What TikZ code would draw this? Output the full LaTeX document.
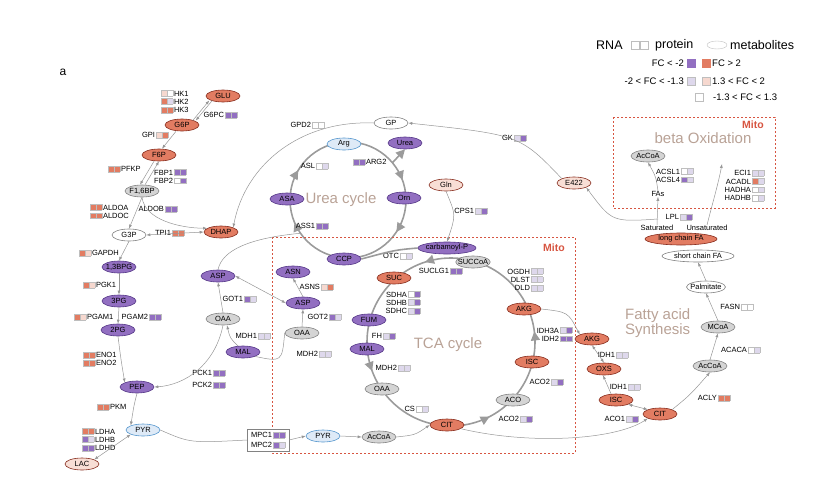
\documentclass[tikz,border=0pt]{standalone}
\usepackage{fontspec}
\setmainfont{Liberation Sans}
\usetikzlibrary{shapes.geometric, positioning, calc, arrows.meta, decorations.markings}

% fold change colours
\definecolor{fcup}{RGB}{226,124,98}
\definecolor{fclup}{RGB}{246,216,207}
\definecolor{fcdn}{RGB}{146,111,193}
\definecolor{fcldn}{RGB}{222,216,236}
\colorlet{fcno}{white}
\definecolor{boxline}{RGB}{190,190,190}
\definecolor{arrowgray}{RGB}{150,150,150}
\definecolor{cyclegray}{RGB}{155,155,155}
\definecolor{mitored}{RGB}{215,85,65}
\definecolor{titletan}{RGB}{185,162,150}
\definecolor{upline}{RGB}{135,45,30}
\definecolor{dnline}{RGB}{85,55,135}
\definecolor{blueline}{RGB}{85,150,205}
\definecolor{bluefill}{RGB}{222,234,247}
\definecolor{pinkfill}{RGB}{248,222,213}
\definecolor{grayfill}{RGB}{212,212,212}
\definecolor{grayline}{RGB}{130,130,130}

\newcommand{\genefont}{\fontsize{7.5}{8.3}\selectfont}
\newcommand{\fcbox}[1]{{\setlength{\fboxsep}{0pt}\setlength{\fboxrule}{0.3pt}%
  \fcolorbox{boxline}{#1}{\rule{0pt}{5.6pt}\rule{5.2pt}{0pt}}}}
\newcommand{\glab}[3]{#1\,\fcbox{#2}\fcbox{#3}}
\newcommand{\blab}[3]{\fcbox{#2}\fcbox{#3}\,#1}

\begin{document}
\begin{tikzpicture}[x=1pt, y=-1pt,
    met/.style={ellipse, draw, line width=0.6pt, minimum width=#1,
      minimum height=12, inner xsep=-3pt, inner ysep=0pt, font=\genefont},
    met/.default=34,
    metup/.style={met=#1, fill=fcup, draw=upline}, metup/.default=34,
    metdn/.style={met=#1, fill=fcdn, draw=dnline}, metdn/.default=34,
    metgy/.style={met=#1, fill=grayfill, draw=grayline}, metgy/.default=34,
    metwt/.style={met=#1, fill=white, draw=grayline}, metwt/.default=34,
    metbl/.style={met=#1, fill=bluefill, draw=blueline}, metbl/.default=34,
    metpk/.style={met=#1, fill=pinkfill, draw=upline}, metpk/.default=34,
    gene/.style={inner sep=0pt, font=\genefont},
    genel/.style={gene, anchor=east, align=right},
    gener/.style={gene, anchor=west, align=left},
    flow/.style={draw=arrowgray, line width=0.5pt, -{Latex[length=4pt, width=3pt]}},
    both/.style={flow, {Latex[length=4pt, width=3pt]}-{Latex[length=4pt, width=3pt]}},
    link/.style={draw=arrowgray, line width=0.5pt},
    cyc/.style={color=cyclegray, line width=1.6pt},
    bigtip/.style={-{Triangle[length=9pt, width=9pt]}},
    mitobox/.style={draw=mitored, line width=0.8pt, dash pattern=on 2pt off 2pt},
    cycletitle/.style={font=\fontsize{15}{12.5}\selectfont, text=titletan, inner sep=0pt},
    mitotitle/.style={font=\fontsize{10.5}{12}\selectfont\bfseries, text=mitored, inner sep=0pt},
    lgtext/.style={font=\fontsize{9.5}{11}\selectfont, inner sep=0pt},
    lgbig/.style={font=\fontsize{12.5}{14}\selectfont, inner sep=0pt},
    lgbox/.style={draw=boxline, line width=0.4pt, minimum width=8, minimum height=8, inner sep=0pt}
  ]
  \useasboundingbox (0,0) rectangle (825,493);

  % cycles
  \coordinate (ureac) at (348,200);
  \coordinate (tcac) at (451,342);
  \draw[cyc, postaction={decorate}, decoration={markings,
      mark=at position 0.093 with {\arrow{Triangle[length=9pt,width=9pt]}},
      mark=at position 0.437 with {\arrow{Triangle[length=9pt,width=9pt]}},
      mark=at position 0.586 with {\arrow{Triangle[length=9pt,width=9pt]}},
      mark=at position 0.944 with {\arrow{Triangle[length=9pt,width=9pt]}}}]
    (ureac) circle[radius=58];
  \draw[cyc, postaction={decorate}, decoration={markings,
      mark=at position 0.02 with {\arrow{Triangle[length=9pt,width=9pt]}},
      mark=at position 0.30 with {\arrow{Triangle[length=9pt,width=9pt]}},
      mark=at position 0.556 with {\arrow{Triangle[length=9pt,width=9pt]}},
      mark=at position 0.826 with {\arrow{Triangle[length=9pt,width=9pt]}}}]
    (tcac) ++(0:84) arc[start angle=0, end angle=-360, radius=84];

  % compartments
  \draw[mitobox] (272,237) rectangle (575,453);
  \draw[mitobox] (613,117) rectangle (775,208);

  \node[font=\fontsize{12}{14}\selectfont] (panel) at (63,72) {a};
  \node[cycletitle] (ureatitle) at (341,200) {Urea cycle};
  \node[cycletitle] (tcatitle) at (448,345) {TCA cycle};
  \node[cycletitle] (betatitle) at (703,138) {beta Oxidation};
  \node[cycletitle, anchor=west, align=left] (fatitle) at (625,323) {Fatty acid\\Synthesis};
  \node[mitotitle] (mitotca) at (554,248) {Mito};
  \node[mitotitle] (mitobeta) at (753,125) {Mito};

  % glycolysis
  \node[metup] (glu) at (223,96) {GLU};
  \node[metup] (gsixp) at (182,125) {G6P};
  \node[metup] (fsixp) at (159,155) {F6P};
  \node[metgy] (fbp) at (142,191) {F1,6BP};
  \node[metwt] (gthreep) at (129,235) {G3P};
  \node[metup] (dhap) at (221,232) {DHAP};
  \node[metdn] (bpg) at (119,267) {1,3BPG};
  \node[metdn] (pgthree) at (119,301) {3PG};
  \node[metdn] (pgtwo) at (118,330) {2PG};
  \node[metdn] (pep) at (137,387) {PEP};
  \node[metbl] (pyr) at (143,430) {PYR};
  \node[metpk] (lac) at (82,464) {LAC};

  % shuttles
  \node[metdn] (aspc) at (218,276) {ASP};
  \node[metgy] (oaac) at (223,319) {OAA};
  \node[metdn] (malc) at (243,352) {MAL};
  \node[metdn] (asn) at (293,272) {ASN};
  \node[metdn] (aspm) at (303,303) {ASP};
  \node[metgy] (oaam) at (302,333) {OAA};
  \node[metbl] (pyrm) at (323,436) {PYR};
  \node[metgy] (accoam) at (379,437) {AcCoA};

  % TCA cycle
  \node[metup] (cit) at (447,425) {CIT};
  \node[metgy] (aco) at (513,400) {ACO};
  \node[metup] (isc) at (532,362) {ISC};
  \node[metup] (akg) at (524,309) {AKG};
  \node[metgy] (succoa) at (473,262) {SUCCoA};
  \node[metup] (suc) at (394,278) {SUC};
  \node[metdn] (fum) at (369,320) {FUM};
  \node[metdn] (mal) at (367,349) {MAL};
  \node[metgy] (oaa) at (382,389) {OAA};

  % urea cycle
  \node[metbl] (arg) at (344,144) {Arg};
  \node[metdn] (urea) at (405,143) {Urea};
  \node[metdn] (orn) at (404,198) {Orn};
  \node[metdn] (asa) at (287,199) {ASA};
  \node[metdn] (ccp) at (344,259) {CCP};
  \node[metdn=58] (carbp) at (447,248) {carbamoyl-P};
  \node[metpk] (gln) at (446,185) {Gln};
  \node[metwt] (gp) at (391,123) {GP};
  \node[metpk] (efour) at (574,183) {E422};

  % fatty acids
  \node[metup] (akgf) at (592,339) {AKG};
  \node[metup] (oxs) at (604,369) {OXS};
  \node[metup] (iscf) at (616,400) {ISC};
  \node[metup] (citf) at (660,414) {CIT};
  \node[metgy] (accoaf) at (710,366) {AcCoA};
  \node[metgy] (mcoa) at (718,327) {MCoA};
  \node[metwt=39] (palm) at (706,287) {Palmitate};
  \node[metwt=72] (scfa) at (698,256) {short chain FA};
  \node[metup=72] (lcfa) at (681,239) {long chain FA};
  \node[metgy] (accoab) at (648,156) {AcCoA};
  \node[gene] (fas) at (658,194) {FAs};
  \node[gene] (sat) at (657,228) {Saturated};
  \node[gene] (unsat) at (707,228) {Unsaturated};

  % genes
  \node[gener] (hk) at (161,101.5) {\blab{HK1}{fclup}{fcno}\\\blab{HK2}{fcup}{fcldn}\\\blab{HK3}{fcup}{fcup}};
  \node[genel] (gsixpc) at (237,115) {\glab{G6PC}{fcdn}{fcdn}};
  \node[genel] (gpi) at (168,135) {\glab{GPI}{fclup}{fcup}};
  \node[gener] (pfkp) at (108,169) {\blab{PFKP}{fcup}{fcup}};
  \node[genel] (fbpase) at (186,176.5) {\glab{FBP1}{fcdn}{fcdn}\\\glab{FBP2}{fcno}{fcdn}};
  \node[gener] (aldo) at (90,211.5) {\blab{ALDOA}{fcup}{fcup}\\\blab{ALDOC}{fcup}{fcup}};
  \node[genel] (aldob) at (177,209) {\glab{ALDOB}{fcdn}{fcdn}};
  \node[genel] (tpi) at (184,233) {\glab{TPI1}{fcup}{fcup}};
  \node[gener] (gapdh) at (79,253) {\blab{GAPDH}{fcup}{fclup}};
  \node[gener] (pgk) at (83,285) {\blab{PGK1}{fcup}{fclup}};
  \node[gener] (pgamone) at (74,317) {\blab{PGAM1}{fcup}{fclup}};
  \node[genel] (pgamtwo) at (161,317) {\glab{PGAM2}{fcdn}{fcdn}};
  \node[gener] (eno) at (83,359) {\blab{ENO1}{fcup}{fcup}\\\blab{ENO2}{fcup}{fcup}};
  \node[gener] (pkm) at (97,407) {\blab{PKM}{fcup}{fcup}};
  \node[gener] (ldh) at (82,439.5) {\blab{LDHA}{fcup}{fcup}\\\blab{LDHB}{fcdn}{fcldn}\\\blab{LDHD}{fcdn}{fcdn}};

  \node[genel] (gotone) at (256,299) {\glab{GOT1}{fcdn}{fcldn}};
  \node[genel] (mdhone) at (270,336) {\glab{MDH1}{fcldn}{fcldn}};
  \node[genel] (pckone) at (225,373) {\glab{PCK1}{fcdn}{fcdn}};
  \node[genel] (pcktwo) at (225,385) {\glab{PCK2}{fcdn}{fcdn}};
  \node[genel] (asns) at (333,287) {\glab{ASNS}{fclup}{fcup}};
  \node[genel] (gottwo) at (341,317) {\glab{GOT2}{fcdn}{fcldn}};
  \node[genel] (mdhtwoc) at (331,354) {\glab{MDH2}{fcldn}{fcldn}};
  \node[gene, draw=grayline, fill=white, line width=0.5pt, inner xsep=4pt, inner ysep=2.5pt,
    align=right] (mpc) at (268,440) {\glab{MPC1}{fcdn}{fcdn}\\[2pt]\glab{MPC2}{fcdn}{fcldn}};

  \node[genel] (asl) at (328,166) {\glab{ASL}{fcno}{fcldn}};
  \node[gener] (argtwo) at (353,162) {\blab{ARG2}{fcdn}{fcdn}};
  \node[genel] (assone) at (328,226) {\glab{ASS1}{fcdn}{fcdn}};
  \node[genel] (gpdtwo) at (324,125) {\glab{GPD2}{fcno}{fcno}};
  \node[genel] (gk) at (526,138) {\glab{GK}{fcldn}{fcdn}};
  \node[genel] (cpsone) at (487,211) {\glab{CPS1}{fcldn}{fcdn}};
  \node[genel] (otc) at (412,256) {\glab{OTC}{fcno}{fcldn}};
  \node[genel] (suclg) at (462,271) {\glab{SUCLG1}{fcdn}{fcdn}};
  \node[genel] (sdh) at (420,302.5) {\glab{SDHA}{fcno}{fcdn}\\\glab{SDHB}{fcldn}{fcdn}\\\glab{SDHC}{fcldn}{fcdn}};
  \node[genel] (fh) at (395,336) {\glab{FH}{fcldn}{fcdn}};
  \node[genel] (mdhtwo) at (410,368) {\glab{MDH2}{fcldn}{fcldn}};
  \node[genel] (cs) at (428,409) {\glab{CS}{fcno}{fcldn}};
  \node[genel] (acotwob) at (532,419) {\glab{ACO2}{fcldn}{fcdn}};
  \node[genel] (acotwor) at (563,382) {\glab{ACO2}{fcldn}{fcdn}};
  \node[genel] (idhm) at (572,334.5) {\glab{IDH3A}{fcldn}{fcdn}\\\glab{IDH2}{fcdn}{fcdn}};
  \node[genel] (ogdh) at (543,279.5) {\glab{OGDH}{fcldn}{fcldn}\\\glab{DLST}{fcldn}{fcldn}\\\glab{DLD}{fcldn}{fcldn}};

  \node[genel] (idhonea) at (628,355) {\glab{IDH1}{fcldn}{fcldn}};
  \node[genel] (idhoneb) at (640,387) {\glab{IDH1}{fcldn}{fcldn}};
  \node[genel] (acoone) at (638,419) {\glab{ACO1}{fcldn}{fcdn}};
  \node[genel] (acly) at (730,398) {\glab{ACLY}{fcup}{fcup}};
  \node[genel] (acaca) at (760,350) {\glab{ACACA}{fcno}{fcldn}};
  \node[genel] (fasn) at (753,307) {\glab{FASN}{fcno}{fcno}};
  \node[genel] (lpl) at (692,217) {\glab{LPL}{fcldn}{fcdn}};
  \node[genel] (acsl) at (693,175.5) {\glab{ACSL1}{fcno}{fcldn}\\\glab{ACSL4}{fcdn}{fcldn}};
  \node[genel] (eci) at (764,185.5) {\glab{ECI1}{fcldn}{fcldn}\\\glab{ACADL}{fcup}{fcldn}\\\glab{HADHA}{fcno}{fcldn}\\\glab{HADHB}{fcno}{fcldn}};

  % legend
  \node[lgbig, anchor=west] (lgrna) at (596,45) {RNA};
  \node[lgbox] (lgrnabox) at (635.5,45) {};
  \node[lgbox] (lgprotbox) at (644.5,45) {};
  \node[lgbig, anchor=west] (lgprot) at (655,45) {protein};
  \node[ellipse, draw=boxline, line width=0.4pt, minimum width=20, minimum height=8, inner sep=0pt] (lgmet) at (717,45) {};
  \node[lgbig, anchor=west] (lgmettext) at (730,45) {metabolites};
  \node[lgtext, anchor=east] (lgdntext) at (684,63) {FC < -2};
  \node[lgbox, fill=fcdn, draw=fcdn] (lgdn) at (691,63) {};
  \node[lgbox, fill=fcup, draw=fcup] (lgup) at (706,63) {};
  \node[lgtext, anchor=west] (lguptext) at (712,63) {FC > 2};
  \node[lgtext, anchor=east] (lgldntext) at (684,81) {-2 < FC < -1.3};
  \node[lgbox, fill=fcldn] (lgldn) at (691,81) {};
  \node[lgbox, fill=fclup] (lglup) at (706,81) {};
  \node[lgtext, anchor=west] (lgluptext) at (712,81) {1.3 < FC < 2};
  \node[lgbox] (lgno) at (699,97) {};
  \node[lgtext, anchor=west] (lgnotext) at (713,97) {-1.3 < FC < 1.3};

  % glycolysis connectors
  \draw[flow] ([xshift=-1.5pt]gsixp.north east) -- ([xshift=-1.5pt]glu.south west);
  \draw[flow] ([xshift=1.5pt]glu.south west) -- ([xshift=1.5pt]gsixp.north east);
  \draw[flow] ($(gsixp.south)+(-6,0)$) -- ($(fsixp.north)+(3,0)$);
  \draw[flow] ($(fsixp.south)+(-5,0)$) -- ($(fbp.north)+(-2,0)$);
  \draw[flow] ($(fbp.north)+(3,0)$) -- (fsixp.south);
  \draw[flow] (fbp.south) -- (gthreep.north);
  \draw[flow] (fbp.south) .. controls (145,220) and (180,228) .. (dhap.165);
  \draw[both] (gthreep.east) -- (dhap.west);
  \draw[flow] (gthreep.south) -- (bpg.north);
  \draw[flow] (bpg.south) -- (pgthree.north);
  \draw[flow] (pgthree.south) -- (pgtwo.north);
  \draw[flow] (pgtwo.south) .. controls (121,360) .. (pep.north west);
  \draw[flow] (pep.south) .. controls (134,405) .. (pyr.north west);
  \draw[both] (pyr.south west) -- (lac.north east);
  \draw[link] (pyr.east) .. controls (190,443) .. (mpc.west);
  \draw[flow] (mpc.east) -- (pyrm.west);
  \draw[flow] (pyrm.east) -- (accoam.west);
  \draw[flow] (accoam.east) .. controls (415,435) .. (cit.west);
  \draw[flow] (cit.-15) .. controls (530,445) and (615,440) .. (citf.200);

  % shuttle connectors
  \draw[flow] (oaac.north) -- (aspc.south);
  \draw[flow] (malc.130) .. controls (230,338) .. ($(oaac.south)+(4,0)$);
  \draw[flow] (oaac.south) .. controls (215,365) and (185,385) .. (pep.east);
  \draw[both] (aspc.east) -- (aspm.west);
  \draw[link] (aspc.north) .. controls (222,250) and (250,238) .. ($(ureac)+(145:58)$);
  \draw[flow] (oaam.north) -- (aspm.south);
  \draw[flow] (aspm.north) -- (asn.south);
  \draw[link] (malc.south east) .. controls (282,362) .. (oaam.west);

  % urea connectors
  \draw[cyc, bigtip] ($(ureac)+(-40:58)$) -- (urea.south);
  \draw[cyc] (ccp.east) .. controls (395,250) .. (carbp.west);
  \draw[flow] (gln.south) .. controls (456,215) .. (carbp.north);
  \draw[flow] (gp.west) .. controls (300,120) and (245,165) .. (dhap.north east);
  \draw[flow] (efour.north west) .. controls (520,135) .. (gp.east);

  % fatty acid connectors
  \coordinate (satjct) at (658,219);
  \coordinate (unsend) at (722,164);
  \draw[flow] (satjct) .. controls (612,222) .. (efour.south east);
  \draw[flow] (sat.north) -- (fas.south);
  \draw[flow] (fas.north) .. controls (656,177) .. (accoab.south);
  \draw[flow] (unsat.north) .. controls (712,205) and (718,185) .. (unsend);
  \draw[flow] (akg.east) .. controls (568,312) .. (akgf.north west);
  \draw[both] (akgf.south) -- (oxs.north);
  \draw[flow] ($(iscf.north)+(-5,0)$) -- ($(oxs.south)+(-1,0)$);
  \draw[both] (iscf.-20) -- (citf.160);
  \draw[flow] (citf.north east) .. controls (690,395) .. (accoaf.south);
  \draw[flow] (accoaf.north) -- (mcoa.south);
  \draw[flow] (mcoa.north) -- (palm.south);
  \draw[flow] (palm.north) -- (scfa.south);
\end{tikzpicture}
\end{document}
